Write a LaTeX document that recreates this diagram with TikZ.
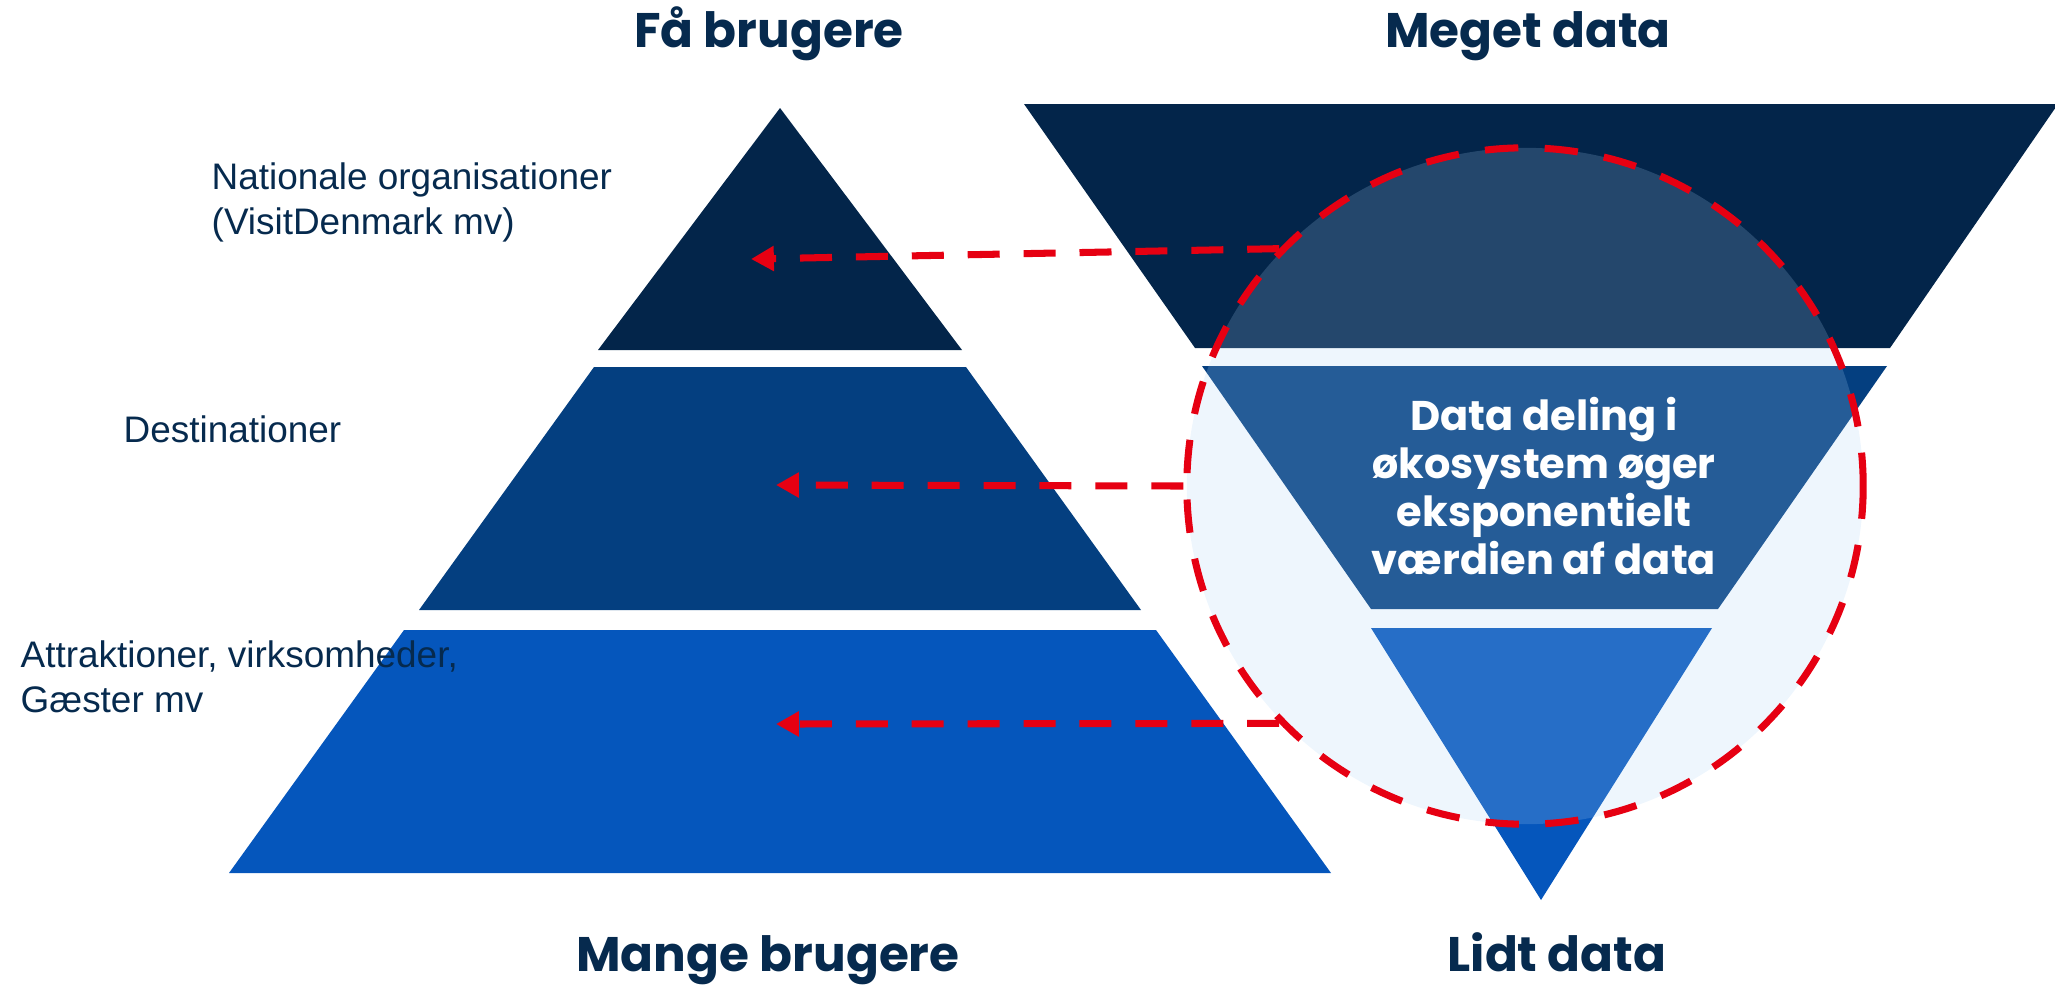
\documentclass[tikz,border=0pt]{standalone}
\usepackage{fontspec}
\setmainfont{Liberation Sans}
\newfontfamily\headfont{Poppins}
\usetikzlibrary{arrows.meta}
\definecolor{navy}{HTML}{062A4E}
\definecolor{layerdark}{HTML}{03254A}
\definecolor{layermid}{HTML}{043F80}
\definecolor{layerlight}{HTML}{0556BC}
\definecolor{ringred}{HTML}{E60012}
\definecolor{ringfill}{RGB}{170,210,245}
\tikzset{heading/.style={font=\headfont\bfseries\fontsize{13.8}{16}\selectfont, text=navy, inner sep=0pt}}
\tikzset{leveltext/.style={font=\fontsize{10.5}{12.8}\selectfont, text=navy, align=left, inner sep=0pt}}
\tikzset{flow/.style={draw=ringred, line width=2pt, dash pattern=on 9.1pt off 6.8pt, -{Triangle[length=6.5pt, width=6.8pt]}}}

\begin{document}
\begin{tikzpicture}[x=0.01cm, y=-0.01cm]
    \useasboundingbox (0,0) rectangle (2055,987);
    % users pyramid
    \fill[layerdark] (780,108) -- (962,350) -- (598,350) -- cycle;
    \fill[layermid] (594,367) -- (966,367) -- (1141,610) -- (419,610) -- cycle;
    \fill[layerlight] (404,630) -- (1156,630) -- (1331,873) -- (229,873) -- cycle;
    % data funnel
    \fill[layerdark] (1024,104) -- (2058,104) -- (1890,348) -- (1195,348) -- cycle;
    \fill[layermid] (1202,366) -- (1887,366) -- (1718,609) -- (1371,609) -- cycle;
    \fill[layerlight] (1371,628) -- (1712,628) -- (1541,900) -- cycle;
    \node[circle, minimum size=6.76cm, inner sep=0pt, fill=ringfill, fill opacity=0.2, draw=ringred, line width=2pt, dash pattern=on 9.5pt off 7.5pt] (ring) at (1525,486) {};
    \coordinate (national tip) at (751,259);
    \coordinate (destination tip) at (776,485);
    \coordinate (attraction tip) at (776,724);
    \draw[flow] (ring.136) -- (national tip);
    \draw[flow] (ring.west) -- (destination tip);
    \draw[flow] (ring.224) -- (attraction tip);
    \node[font=\headfont\bfseries\fontsize{11.8}{13.7}\selectfont, text=white, align=center] (sharing) at (1544,486) {Data deling i\\økosystem øger\\eksponentielt\\værdien af data};
    \node[heading, anchor=base] (few users) at (769,47) {Få brugere};
    \node[heading, anchor=base] (much data) at (1528,47) {Meget data};
    \node[heading, anchor=base] (many users) at (768,971) {Mange brugere};
    \node[heading, anchor=base] (little data) at (1557,971) {Lidt data};
    \node[leveltext, anchor=north west] (national) at (211,162) {Nationale organisationer\\(VisitDenmark mv)};
    \node[leveltext, anchor=base west] (destination) at (123,442) {Destinationer};
    \node[leveltext, anchor=north west] (attraction) at (20,640) {Attraktioner, virksomheder,\\Gæster mv};
\end{tikzpicture}
\end{document}
